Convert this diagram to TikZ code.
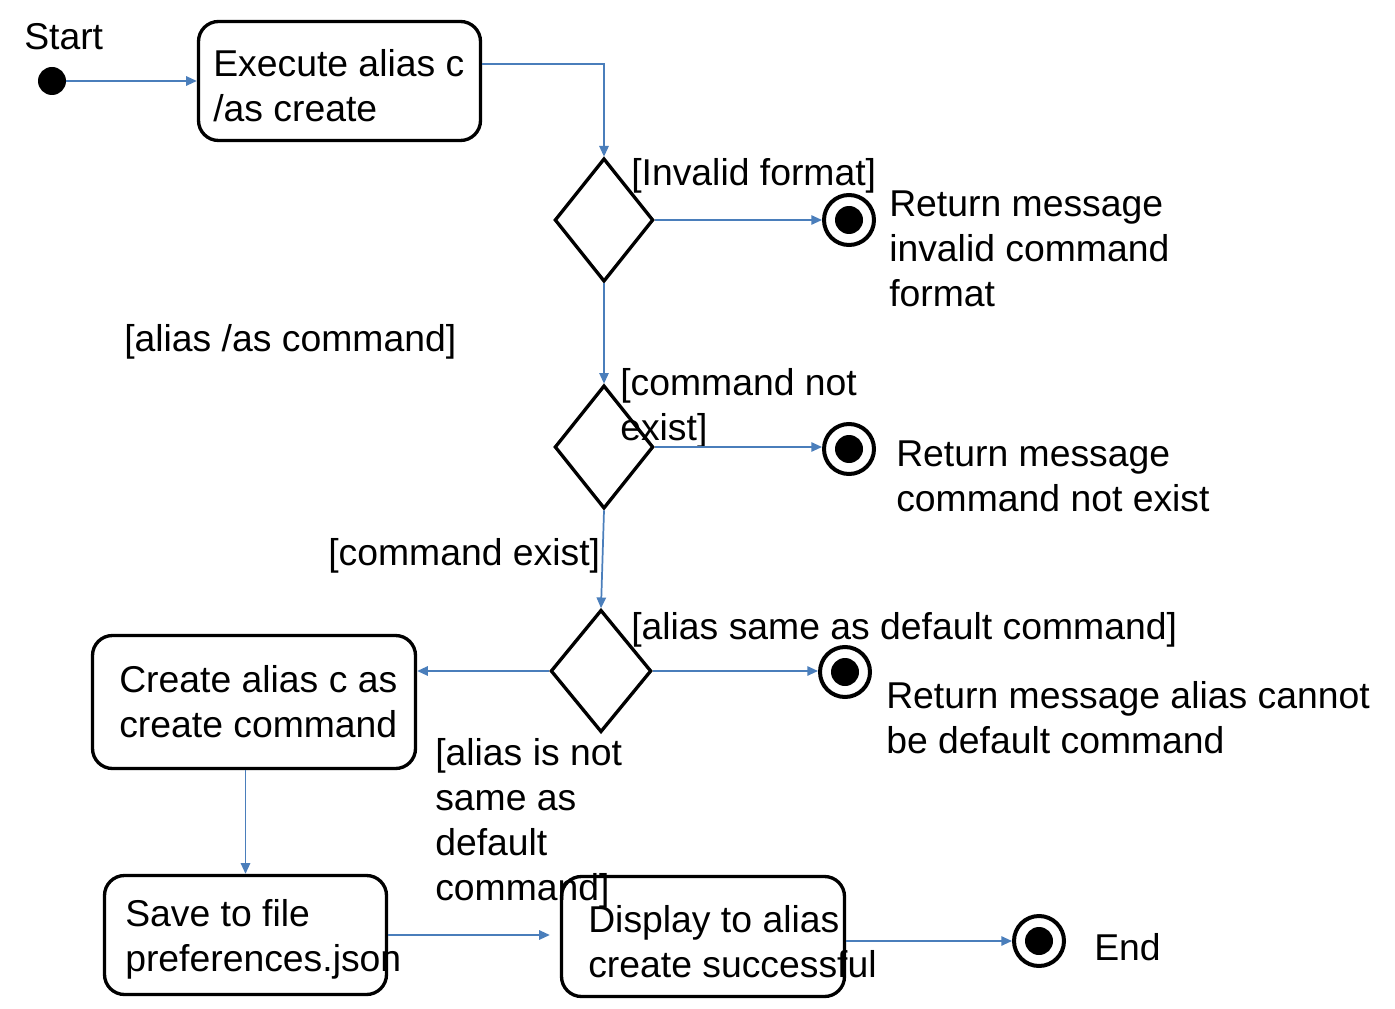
\documentclass[tikz,border=0pt]{standalone}
\usepackage{fontspec}
\setmainfont{Liberation Sans}
\usetikzlibrary{arrows.meta,shapes.geometric}
\definecolor{conn}{RGB}{74,126,187}
\begin{document}
\begin{tikzpicture}[x=0.75pt,y=-0.75pt,
  lbl/.style={inner sep=0pt,anchor=base west,align=left,font=\fontsize{28}{33.75}\selectfont},
  actbox/.style={draw,rectangle,rounded corners=15pt,line width=2.5pt,inner sep=0pt},
  decision/.style={draw,diamond,line width=2.5pt,inner sep=0pt,minimum width=74pt,minimum height=92.5pt},
  initnode/.style={circle,fill=black,inner sep=0pt,minimum size=21pt},
  finalnode/.style={circle,draw,line width=3pt,inner sep=0pt,minimum size=37.5pt,
    path picture={\fill[black] (path picture bounding box.center) circle (10.5pt);}},
  flow/.style={draw=conn,line width=1.3pt,-{Triangle[length=8pt,width=7pt]}}
]
\fill[white] (0,0) rectangle (1395,1009);
\useasboundingbox (0,0) rectangle (1395,1009);

% nodes (text anchors are at the baseline of the last line)
\node[initnode] (start) at (52,81) {};
\node[lbl] (startlbl) at (24,50) {Start};

\node[actbox,minimum width=211.5pt,minimum height=89.25pt] (b1) at (339.5,81) {};
\node[lbl] (b1t) at (213,122) {Execute alias c\\/as create};

\node[decision] (d1) at (604,220) {};
\node[finalnode] (f1) at (849,220) {};
\node[lbl] (l1) at (631,186) {[Invalid format]};
\node[lbl] (r1) at (889,306) {Return message\\invalid command\\format};
\node[lbl] (l2) at (124,351) {[alias /as command]};

\node[decision] (d2) at (604,447) {};
\node[finalnode] (f2) at (849,449) {};
\node[lbl] (l3) at (620,440) {[command not\\exist]};
\node[lbl] (r2) at (896,511) {Return message\\command not exist};
\node[lbl] (l4) at (328,565) {[command exist]};

\node[decision,minimum width=75.5pt,minimum height=91.75pt] (d3) at (601,671) {};
\node[finalnode] (f3) at (845,672) {};
\node[lbl] (l5) at (631,639) {[alias same as default command]};
\node[lbl] (r3) at (886,753) {Return message alias cannot\\be default command};

\node[actbox,minimum width=242.25pt,minimum height=99.75pt] (b2) at (254,702) {};
\node[lbl] (b2t) at (119,737) {Create alias c as\\create command};
\node[lbl] (l6) at (435,900) {[alias is not\\same as\\default\\command]};

\node[actbox,minimum width=211.5pt,minimum height=89.25pt] (b3) at (245.5,935) {};
\node[lbl] (b3t) at (125,971) {Save to file\\preferences.json};

\node[actbox,minimum width=212.25pt,minimum height=90pt] (b4) at (703,936.5) {};
\node[lbl] (b4t) at (588,977) {Display to alias\\create successful};

\node[finalnode] (f4) at (1039,941) {};
\node[lbl] (endlbl) at (1094,960) {End};

% connectors
\draw[flow] (start) -- (b1);
\draw[flow] ([yshift=12.75pt]b1.east) -| (d1.north);
\draw[flow] (d1.east) -- (f1.west);
\draw[flow] (d1.south) -- (d2.north);
\draw[flow] (d2.east) -- (d2.east -| f2.west);
\draw[flow] (d2.south) -- (d3.north);
\draw[flow] (d3.east) -- (d3.east -| f3.west);
\draw[flow] (d3.west) -- (b2.east |- d3.west);
\draw[flow] (b3.north |- b2.south) -- (b3.north);
\draw[flow,shorten >=7.5pt] (b3.east) -- (b3.east -| b4.west);
\draw[flow] (b4.east |- f4.west) -- (f4.west);
\end{tikzpicture}
\end{document}
